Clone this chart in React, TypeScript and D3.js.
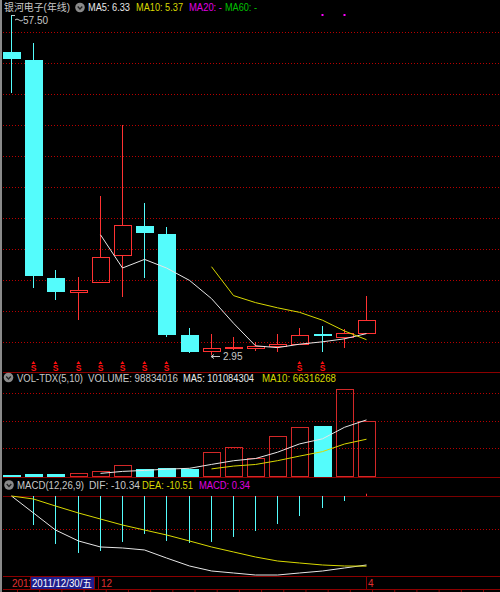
import React from 'react';
import * as d3 from 'd3';

// ---------- data ----------
const years = ['2010','2011','2012','2013','2014','2015','2016','2017','2018','2019','2020','2021','2022','2023','2024','2025','2026'];
const opens  = [51.56, 50.28, 15.30, 13.06, 14.66, 19.00, 23.65, 22.36, 6.16, 3.59, 3.99, 4.07, 4.39, 4.71, 6.24, 5.84, 6.48];
const highs  = [57.50, 53.00, 16.59, 15.46, 28.46, 39.85, 27.34, 23.49, 7.28, 6.32, 5.84, 5.04, 6.32, 7.28, 7.60, 7.12, 12.42];
const lows   = [45.00, 13.70, 11.77, 8.57, 14.50, 12.26, 15.30, 5.84, 3.27, 2.95, 3.75, 3.59, 3.43, 4.71, 3.43, 4.07, 6.48];
const closes = [50.44, 15.62, 13.06, 13.38, 18.67, 23.81, 22.52, 6.16, 3.43, 4.07, 4.07, 4.39, 4.71, 6.16, 6.00, 6.48, 8.57];
const volumes = [2.0e6, 3.6e6, 3.6e6, 5.4e6, 9.0e6, 19.8e6, 12.6e6, 15.0e6, 13.0e6, 44.0e6, 53.0e6, 32.3e6, 71.9e6, 88.0e6, 89.9e6, 156.8e6, 98834016];
const difs = [0, -2.55, -5.10, -6.74, -7.64, -7.79, -8.09, -9.29, -10.49, -11.24, -11.54, -11.84, -11.84, -11.54, -11.24, -10.79, -10.34];
const deas = [0, -0.45, -1.50, -2.55, -3.45, -4.35, -5.10, -5.84, -6.74, -7.64, -8.39, -9.14, -9.74, -10.04, -10.34, -10.49, -10.51];
const macds = [0, -4.35, -7.19, -8.54, -8.24, -6.89, -5.69, -6.74, -7.04, -6.89, -6.14, -5.25, -4.20, -3.00, -1.80, -0.75, 0.34];
const signalYears = ['2011','2012','2013','2014','2015','2016','2017','2023','2024'];
const markYears = ['2024','2025'];
const headerMain = { name: '银河电子(年线)', ma5: 'MA5: 6.33', ma10: 'MA10: 5.37', ma20: 'MA20: -', ma60: 'MA60: -' };
const headerVol = { name: 'VOL-TDX(5,10)', vol: 'VOLUME: 98834016', ma5: 'MA5: 101084304', ma10: 'MA10: 66316268' };
const headerMacd = { name: 'MACD(12,26,9)', dif: 'DIF: -10.34', dea: 'DEA: -10.51', macd: 'MACD: 0.34' };
const axisLabels = { left: '2011', cursor: '2011/12/30/五', mid: '12', right: '4' };

// ---------- helpers ----------
function movingAvg(arr: number[], n: number): (number | null)[] {
  return arr.map((_, i) => (i < n - 1 ? null : d3.mean(arr.slice(i - n + 1, i + 1)) as number));
}

const FONT = '"Liberation Sans", Arial, "Noto Sans CJK SC", sans-serif';
const UP = '#ff3232';
const DOWN = '#54fcfc';
const GRID = '#b80000';
const SEP = '#8c0000';
const W = 500, H = 592;

function T({ x, y, w, fill, children, size = 10 }: any) {
  return (
    <text x={x} y={y} fill={fill} fontSize={size} fontFamily={FONT}
      textLength={w} lengthAdjust="spacingAndGlyphs">{children}</text>
  );
}

function Icon({ cx, cy }: { cx: number; cy: number }) {
  return (
    <g>
      <circle cx={cx} cy={cy} r={4.8} fill="#8a8a8a" />
      <path d={`M${cx - 2.3},${cy - 1} L${cx},${cy + 1.5} L${cx + 2.3},${cy - 1}`} stroke="#222" strokeWidth={1.3} fill="none" />
    </g>
  );
}

export default function App() {
  const n = years.length;
  const x = d3.scaleLinear().domain([0, n - 1]).range([12, 367]);
  const px = (i: number) => Math.round(x(i));
  const idx = (yr: string) => years.indexOf(yr);

  const yP = d3.scaleLinear().domain([d3.min(lows) as number, d3.max(highs) as number]).range([355, 15]);
  const yV = d3.scaleLinear().domain([0, d3.max(volumes) as number]).range([476, 389]);
  const yM = d3.scaleLinear().domain([d3.min(difs) as number, 0]).range([575, 496]);

  const ma5 = movingAvg(closes, 5);
  const ma10 = movingAvg(closes, 10);
  const vma5 = movingAvg(volumes, 5);
  const vma10 = movingAvg(volumes, 10);

  const lineGen = (ys: d3.ScaleLinear<number, number>) =>
    d3.line<number | null>().defined(d => d != null).x((_, i) => px(i) - 0.5).y(d => ys(d as number));

  const priceGrid = d3.range(11).map(k => 32 + 31 * k);
  const volGrid = [393, 421, 448];
  const macdGrid = [529];

  const hiIdx = highs.indexOf(d3.max(highs) as number);
  const loIdx = lows.indexOf(d3.min(lows) as number);

  return (
    <svg width={W} height={H} style={{ position: 'absolute', left: 0, top: 0, background: '#000' }}>
      <rect x={0} y={0} width={W} height={H} fill="#000" />
      {/* left border */}
      <line x1={1} x2={1} y1={0} y2={H} stroke="#8a8a8a" strokeWidth={2} />

      {/* gridlines */}
      {priceGrid.concat(volGrid, macdGrid).map(g => (
        <line key={'g' + g} x1={3} x2={W} y1={g + 0.5} y2={g + 0.5} stroke={GRID} strokeDasharray="1,2" />
      ))}
      {/* separators */}
      {[372, 477].map(s => (
        <line key={'s' + s} x1={3} x2={W} y1={s + 0.5} y2={s + 0.5} stroke={SEP} />
      ))}
      <line x1={3} x2={W} y1={yM(0) + 0.5} y2={yM(0) + 0.5} stroke="#7a0000" />

      {/* candles */}
      {years.map((yr, i) => {
        const c = px(i);
        const up = closes[i] >= opens[i];
        const yo = Math.round(yP(opens[i]));
        const yc = Math.round(yP(closes[i]));
        const yh = Math.round(yP(highs[i]));
        const yl = Math.round(yP(lows[i]));
        const top = Math.min(yo, yc), bot = Math.max(yo, yc);
        const col = up ? UP : DOWN;
        const h = bot - top;
        return (
          <g key={'c' + yr}>
            {up ? (
              <>
                <line x1={c - 0.5} x2={c - 0.5} y1={yh} y2={top} stroke={col} />
                <line x1={c - 0.5} x2={c - 0.5} y1={bot} y2={yl} stroke={col} />
                {h >= 2 ? (
                  <rect x={c - 8.5} y={top + 0.5} width={17} height={h} fill="none" stroke={col} />
                ) : (
                  <rect x={c - 9} y={top - 1} width={18} height={2} fill={col} />
                )}
              </>
            ) : (
              <>
                <line x1={c - 0.5} x2={c - 0.5} y1={yh} y2={yl} stroke={col} />
                <rect x={c - 9} y={top} width={18} height={Math.max(h, 2)} fill={col} />
              </>
            )}
          </g>
        );
      })}

      {/* price MAs */}
      <path d={lineGen(yP)(ma5) || ''} fill="none" stroke="#e6e6e6" strokeWidth={1} />
      <path d={lineGen(yP)(ma10) || ''} fill="none" stroke="#d8d800" strokeWidth={1} />

      {/* high / low markers */}
      <path d={`M${px(hiIdx) - 0.5},${yP(highs[hiIdx]) + 0.5} H${px(hiIdx) + 3}`} stroke="#c8c8c8" />
      <path d={`M${px(hiIdx) + 3},${yP(highs[hiIdx]) + 5} q2,-2 4,0 t4,0`} stroke="#c8c8c8" fill="none" />
      <text x={px(hiIdx) + 11} y={yP(highs[hiIdx]) + 9} fill="#c8c8c8" fontSize={10} fontFamily={FONT}>{d3.format('.2f')(highs[hiIdx])}</text>
      <path d={`M${px(loIdx) - 1},${yP(lows[loIdx]) + 1.5} h9 M${px(loIdx) - 1},${yP(lows[loIdx]) + 1.5} l3,-2 M${px(loIdx) - 1},${yP(lows[loIdx]) + 1.5} l3,2`} stroke="#c8c8c8" fill="none" />
      <text x={px(loIdx) + 11} y={yP(lows[loIdx]) + 5} fill="#c8c8c8" fontSize={10} fontFamily={FONT}>{d3.format('.2f')(lows[loIdx])}</text>

      {/* magenta marks */}
      {markYears.map(yr => (
        <rect key={'m' + yr} x={px(idx(yr)) - 1.5} y={14} width={2} height={2} fill="#ff00ff" />
      ))}

      {/* signal markers */}
      {signalYears.map(yr => {
        const c = px(idx(yr)) - 0.5;
        return (
          <g key={'sig' + yr}>
            <path d={`M${c - 2},${364} L${c},${361} L${c + 2},${364} Z`} fill="#ff1010" />
            <text x={c} y={370.5} textAnchor="middle" fill="#ff1010" fontSize={8.5} fontWeight="bold" fontFamily={FONT}>S</text>
          </g>
        );
      })}

      {/* volume bars */}
      {years.map((yr, i) => {
        const c = px(i);
        const up = closes[i] >= opens[i];
        const yt = Math.round(yV(volumes[i]));
        const yb = 476;
        return up ? (
          <rect key={'v' + yr} x={c - 8.5} y={yt + 0.5} width={17} height={Math.max(yb - yt, 1)} fill="none" stroke="#d22828" />
        ) : (
          <rect key={'v' + yr} x={c - 9} y={yt} width={18} height={yb - yt + 1} fill={DOWN} />
        );
      })}
      <path d={lineGen(yV)(vma5) || ''} fill="none" stroke="#e6e6e6" strokeWidth={1} />
      <path d={lineGen(yV)(vma10) || ''} fill="none" stroke="#d8d800" strokeWidth={1} />

      {/* MACD */}
      {years.map((yr, i) => {
        const c = px(i) - 0.5;
        const v = macds[i];
        if (v === 0) return null;
        return (
          <line key={'mb' + yr} x1={c} x2={c} y1={yM(0)} y2={yM(v)} stroke={v > 0 ? UP : DOWN} />
        );
      })}
      <path d={lineGen(yM)(difs) || ''} fill="none" stroke="#e6e6e6" strokeWidth={1} />
      <path d={lineGen(yM)(deas) || ''} fill="none" stroke="#d8d800" strokeWidth={1} />

      {/* headers */}
      <T x={4} y={11} w={66} fill="#c8c8c8">{headerMain.name}</T>
      <Icon cx={80} cy={7.5} />
      <T x={88} y={11} w={42} fill="#e8e8e8">{headerMain.ma5}</T>
      <T x={136} y={11} w={47} fill="#d8d800">{headerMain.ma10}</T>
      <T x={189} y={11} w={33} fill="#e000e0">{headerMain.ma20}</T>
      <T x={225} y={11} w={32} fill="#00c000">{headerMain.ma60}</T>

      <Icon cx={8.5} cy={377.5} />
      <T x={17} y={381.5} w={66} fill="#c8c8c8">{headerVol.name}</T>
      <T x={88} y={381.5} w={90} fill="#c8c8c8">{headerVol.vol}</T>
      <T x={183} y={381.5} w={71} fill="#e8e8e8">{headerVol.ma5}</T>
      <T x={262} y={381.5} w={74} fill="#d8d800">{headerVol.ma10}</T>

      <Icon cx={9} cy={485} />
      <T x={17} y={489} w={67} fill="#c8c8c8">{headerMacd.name}</T>
      <T x={89} y={489} w={51} fill="#c8c8c8">{headerMacd.dif}</T>
      <T x={142} y={489} w={51} fill="#d8d800">{headerMacd.dea}</T>
      <T x={199} y={489} w={51} fill="#e000e0">{headerMacd.macd}</T>

      {/* bottom axis */}
      <line x1={3} x2={W} y1={576.5} y2={576.5} stroke={SEP} />
      <line x1={3} x2={W} y1={589.5} y2={589.5} stroke={SEP} />
      {d3.range(0, 22).map(k => (
        <line key={'tk' + k} x1={px(0) + 22.19 * k + 5.5} x2={px(0) + 22.19 * k + 5.5} y1={590} y2={592} stroke={SEP} />
      ))}
      <text x={12} y={587} fill="#e03030" fontSize={10} fontFamily={FONT}>{axisLabels.left}</text>
      <rect x={30} y={577} width={64} height={12} fill="#1e1e8c" />
      <T x={32} y={587} w={60} fill="#ffffff">{axisLabels.cursor}</T>
      <line x1={30.5} x2={30.5} y1={577} y2={589} stroke={SEP} />
      <line x1={94.5} x2={94.5} y1={577} y2={589} stroke={SEP} />
      <line x1={98.5} x2={98.5} y1={577} y2={589} stroke={SEP} />
      <text x={101} y={587} fill="#e03030" fontSize={10} fontFamily={FONT}>{axisLabels.mid}</text>
      <line x1={px(n - 1) - 0.5} x2={px(n - 1) - 0.5} y1={577} y2={589} stroke={SEP} />
      <text x={px(n - 1) + 1} y={587} fill="#e03030" fontSize={10} fontFamily={FONT}>{axisLabels.right}</text>
    </svg>
  );
}
